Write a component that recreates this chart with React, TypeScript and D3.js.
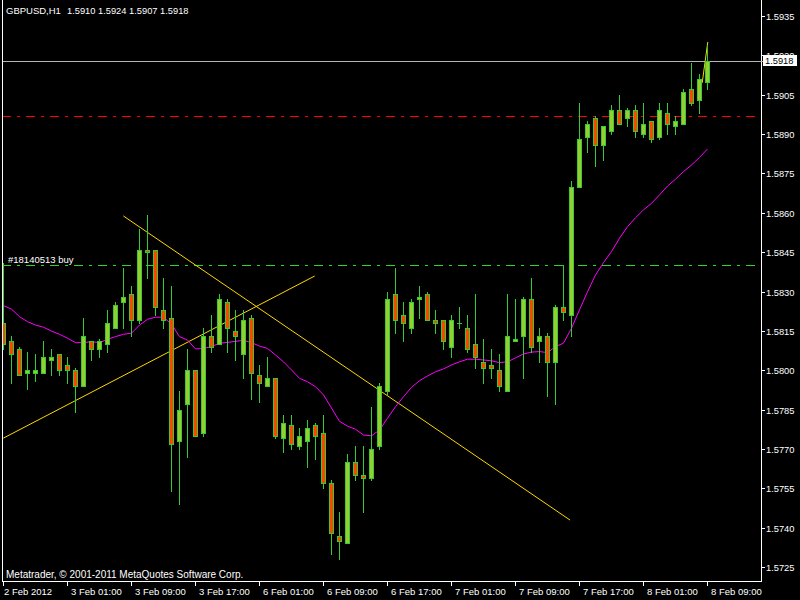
import React, { useEffect, useRef } from 'react';
import * as d3 from 'd3';

// GBPUSD H1, 2 Feb 2012 12:00 .. 8 Feb 2012 09:00 (89 bars)
const opens = [
  1.5818, 1.5811, 1.5808, 1.5799, 1.5799, 1.5799, 1.5804, 1.5806, 1.5802, 1.5800,
  1.5794, 1.5811, 1.5808, 1.5810, 1.5816, 1.5826, 1.5829, 1.5819, 1.5846, 1.5846,
  1.5823, 1.5820, 1.5773, 1.5787, 1.5800, 1.5776, 1.5813, 1.5810, 1.5826, 1.5815,
  1.5806, 1.5820, 1.5798, 1.5794, 1.5797, 1.5774, 1.5779, 1.5771, 1.5773, 1.5779,
  1.5776, 1.5757, 1.5737, 1.5734, 1.5765, 1.5760, 1.5759, 1.5771, 1.5792, 1.5829,
  1.5821, 1.5816, 1.5827, 1.5829, 1.5819, 1.5819, 1.5809, 1.5818, 1.5816, 1.5810,
  1.5803, 1.5802, 1.5800, 1.5792, 1.5811, 1.5813, 1.5827, 1.5811, 1.5813, 1.5803,
  1.5824, 1.5821, 1.5870, 1.5889, 1.5896, 1.5886, 1.5891, 1.5899, 1.5896, 1.5899,
  1.5890, 1.5895, 1.5889, 1.5898, 1.5893, 1.5894, 1.5907, 1.5903, 1.5910,
];
const highs = [
  1.5841, 1.5813, 1.5809, 1.5807, 1.5806, 1.5811, 1.5808, 1.5806, 1.5805, 1.5801,
  1.5820, 1.5811, 1.5812, 1.5823, 1.5826, 1.5839, 1.5832, 1.5854, 1.5859, 1.5846,
  1.5835, 1.5832, 1.5792, 1.5808, 1.5800, 1.5816, 1.5821, 1.5829, 1.5827, 1.5823,
  1.5823, 1.5821, 1.5802, 1.5805, 1.5797, 1.5783, 1.5783, 1.5778, 1.5781, 1.5780,
  1.5783, 1.5758, 1.5746, 1.5768, 1.5771, 1.5771, 1.5786, 1.5795, 1.5830, 1.5839,
  1.5826, 1.5827, 1.5832, 1.5830, 1.5823, 1.5819, 1.5821, 1.5824, 1.5821, 1.5829,
  1.5812, 1.5808, 1.5806, 1.5829, 1.5827, 1.5828, 1.5835, 1.5816, 1.5814, 1.5825,
  1.5840, 1.5872, 1.5902, 1.5895, 1.5897, 1.5893, 1.5901, 1.5905, 1.5900, 1.5901,
  1.5902, 1.5895, 1.5902, 1.5902, 1.5897, 1.5907, 1.5917, 1.5913, 1.5924,
];
const lows = [
  1.5808, 1.5795, 1.5798, 1.5793, 1.5796, 1.5799, 1.5798, 1.5798, 1.5795, 1.5784,
  1.5794, 1.5804, 1.5805, 1.5807, 1.5816, 1.5816, 1.5813, 1.5818, 1.5835, 1.5821,
  1.5816, 1.5754, 1.5749, 1.5767, 1.5775, 1.5775, 1.5807, 1.5810, 1.5807, 1.5804,
  1.5797, 1.5789, 1.5788, 1.5794, 1.5774, 1.5769, 1.5770, 1.5770, 1.5763, 1.5766,
  1.5755, 1.5730, 1.5728, 1.5734, 1.5758, 1.5746, 1.5758, 1.5770, 1.5791, 1.5814,
  1.5811, 1.5814, 1.5820, 1.5819, 1.5814, 1.5808, 1.5805, 1.5816, 1.5807, 1.5801,
  1.5795, 1.5797, 1.5792, 1.5792, 1.5811, 1.5797, 1.5807, 1.5803, 1.5790, 1.5787,
  1.5819, 1.5813, 1.5870, 1.5883, 1.5878, 1.5880, 1.5890, 1.5894, 1.5893, 1.5889,
  1.5889, 1.5887, 1.5888, 1.5890, 1.5890, 1.5894, 1.5901, 1.5898, 1.5907,
];
const closes = [
  1.5810, 1.5806, 1.5798, 1.5800, 1.5800, 1.5805, 1.5805, 1.5800, 1.5800, 1.5794,
  1.5813, 1.5808, 1.5811, 1.5818, 1.5825, 1.5828, 1.5819, 1.5846, 1.5845, 1.5824,
  1.5819, 1.5772, 1.5785, 1.5800, 1.5775, 1.5813, 1.5809, 1.5827, 1.5816, 1.5813,
  1.5819, 1.5799, 1.5795, 1.5797, 1.5775, 1.5780, 1.5772, 1.5775, 1.5778, 1.5775,
  1.5757, 1.5738, 1.5735, 1.5765, 1.5760, 1.5759, 1.5770, 1.5794, 1.5827, 1.5819,
  1.5818, 1.5826, 1.5828, 1.5819, 1.5818, 1.5811, 1.5819, 1.5818, 1.5808, 1.5805,
  1.5801, 1.5801, 1.5794, 1.5813, 1.5812, 1.5827, 1.5809, 1.5813, 1.5803, 1.5824,
  1.5822, 1.5870, 1.5888, 1.5894, 1.5886, 1.5893, 1.5899, 1.5894, 1.5899, 1.5891,
  1.5894, 1.5888, 1.5899, 1.5894, 1.5895, 1.5906, 1.5902, 1.5911, 1.5918,
];
// moving average (magenta)
const maValues = [
  1.58246, 1.58233, 1.58204, 1.58185, 1.58172, 1.58164, 1.58149, 1.58137, 1.58122, 1.58105,
  1.58105, 1.58109, 1.58105, 1.58118, 1.58128, 1.58137, 1.58141, 1.58172, 1.58194, 1.58202,
  1.58202, 1.58176, 1.58128, 1.58115, 1.58081, 1.58083, 1.58090, 1.58103, 1.58106, 1.58110,
  1.58114, 1.58105, 1.58092, 1.58083, 1.58058, 1.58032, 1.58001, 1.57969, 1.57956, 1.57937,
  1.57906, 1.57856, 1.57805, 1.57787, 1.57775, 1.57753, 1.57750, 1.57772, 1.57817, 1.57861,
  1.57899, 1.57935, 1.57960, 1.57978, 1.57994, 1.58005, 1.58020, 1.58032, 1.58042, 1.58042,
  1.58039, 1.58036, 1.58029, 1.58032, 1.58047, 1.58062, 1.58069, 1.58071, 1.58067, 1.58090,
  1.58103, 1.58160, 1.58230, 1.58299, 1.58363, 1.58410, 1.58452, 1.58503, 1.58547, 1.58581,
  1.58611, 1.58636, 1.58668, 1.58702, 1.58728, 1.58757, 1.58782, 1.58811, 1.58843,
];

const timeLabels = [
  '2 Feb 2012', '3 Feb 01:00', '3 Feb 09:00', '3 Feb 17:00', '6 Feb 01:00', '6 Feb 09:00',
  '6 Feb 17:00', '7 Feb 01:00', '7 Feb 09:00', '7 Feb 17:00', '8 Feb 01:00', '8 Feb 09:00',
];
const timeLabelBars = [0, 8, 16, 24, 32, 40, 48, 56, 64, 72, 80, 88];
const priceTicks = [
  1.5935, 1.5920, 1.5905, 1.5890, 1.5875, 1.5860, 1.5845, 1.5830,
  1.5815, 1.5800, 1.5785, 1.5770, 1.5755, 1.5740, 1.5725,
];

// trend lines: [bar, price] endpoints
const trendStarts = [[15.04, 1.58588], [0.04, 1.57741], [87.4, 1.59095]];
const trendEnds = [[70.875, 1.57429], [38.96, 1.58359], [88.1, 1.59251]];

const symbol = 'GBPUSD,H1';
const lastBar = [1.5910, 1.5924, 1.5907, 1.5918];
const bidPrice = 1.5918;
const takeProfit = 1.5897;
const orderPrice = 1.5840;
const orderLabel = '#18140513 buy';

export default function App() {
  const svgRef = useRef<SVGSVGElement>(null);

  useEffect(() => {
    if (!svgRef.current) return;
    const svg = d3.select(svgRef.current);
    svg.selectAll('*').remove();

    const W = 800, H = 600;
    const left = 2, right = 761, bottom = 581;
    const font = "'Liberation Sans', Arial, sans-serif";
    const lime = '#32CD32';

    const x = d3.scaleLinear().domain([0, 88]).range([3, 707]);
    const y = d3.scaleLinear().domain([1.5725, 1.5935]).range([567, 16]);
    const ry = (p: number) => Math.round(y(p));

    svg.append('rect').attr('width', W).attr('height', H).attr('fill', '#000');

    svg.append('defs').append('clipPath').attr('id', 'plot')
      .append('rect').attr('x', left + 1).attr('y', 0)
      .attr('width', right - left - 1).attr('height', bottom);

    const plot = svg.append('g').attr('clip-path', 'url(#plot)');

    // horizontal levels
    const hline = (p: number, color: string, dash: string | null) => {
      const l = plot.append('line')
        .attr('x1', left).attr('x2', right)
        .attr('y1', ry(p) + 0.5).attr('y2', ry(p) + 0.5)
        .attr('stroke', color).attr('stroke-width', 1)
        .attr('shape-rendering', 'crispEdges');
      if (dash) l.attr('stroke-dasharray', dash);
    };
    hline(bidPrice, '#B4B4B4', null);
    hline(takeProfit, '#FF0000', '9,6,3,6');
    hline(orderPrice, '#22DD22', '9,6,3,6');

    plot.append('text')
      .attr('x', 8).attr('y', ry(orderPrice) - 2.5)
      .attr('fill', '#fff').attr('font-family', font).attr('font-size', 9.5)
      .text(orderLabel);

    // trend lines
    trendStarts.forEach((s, k) => {
      const e = trendEnds[k];
      plot.append('line')
        .attr('x1', x(s[0])).attr('y1', y(s[1]))
        .attr('x2', x(e[0])).attr('y2', y(e[1]))
        .attr('stroke', '#FFD700').attr('stroke-width', 1);
    });

    // moving average
    const maLine = d3.line<number>()
      .x((_, i) => x(i) + 0.5)
      .y(d => y(d));
    plot.append('path')
      .attr('d', maLine(maValues))
      .attr('fill', 'none').attr('stroke', '#FF00FF').attr('stroke-width', 1);

    // candles
    const candles = plot.append('g').attr('shape-rendering', 'crispEdges');
    opens.forEach((o, i) => {
      const c = closes[i];
      const cx = Math.round(x(i));
      candles.append('line')
        .attr('x1', cx + 0.5).attr('x2', cx + 0.5)
        .attr('y1', ry(highs[i])).attr('y2', ry(lows[i]) + 1)
        .attr('stroke', lime);
      const top = ry(Math.max(o, c));
      const bot = ry(Math.min(o, c));
      if (bot - top < 1) {
        candles.append('line')
          .attr('x1', cx - 2).attr('x2', cx + 3)
          .attr('y1', top + 0.5).attr('y2', top + 0.5)
          .attr('stroke', lime);
      } else {
        candles.append('rect')
          .attr('x', cx - 1.5).attr('y', top + 0.5)
          .attr('width', 4).attr('height', bot - top)
          .attr('fill', c >= o ? '#9ACD32' : '#FF4500')
          .attr('stroke', lime);
      }
    });

    // frame
    const frame = svg.append('g').attr('stroke', '#fff').attr('shape-rendering', 'crispEdges');
    frame.append('line').attr('x1', left + 0.5).attr('x2', left + 0.5).attr('y1', 0).attr('y2', bottom + 1);
    frame.append('line').attr('x1', right + 0.5).attr('x2', right + 0.5).attr('y1', 0).attr('y2', bottom + 1);
    frame.append('line').attr('x1', left).attr('x2', right + 1).attr('y1', bottom + 0.5).attr('y2', bottom + 0.5);

    // price axis
    priceTicks.forEach(p => {
      frame.append('line')
        .attr('x1', right).attr('x2', right + 4)
        .attr('y1', ry(p) + 0.5).attr('y2', ry(p) + 0.5);
      svg.append('text')
        .attr('x', 766).attr('y', ry(p) + 3.5)
        .attr('fill', '#fff').attr('font-family', font).attr('font-size', 9.3)
        .text(d3.format('.4f')(p));
    });

    // bid marker
    svg.append('line')
      .attr('x1', right).attr('x2', right + 3)
      .attr('y1', ry(bidPrice) + 0.5).attr('y2', ry(bidPrice) + 0.5)
      .attr('stroke', '#B4B4B4').attr('shape-rendering', 'crispEdges');
    svg.append('rect')
      .attr('x', 763).attr('y', ry(bidPrice) - 6)
      .attr('width', 34).attr('height', 11).attr('fill', '#fff');
    svg.append('text')
      .attr('x', 765).attr('y', ry(bidPrice) + 2.5)
      .attr('fill', '#000').attr('font-family', font).attr('font-size', 9.3)
      .text(d3.format('.4f')(bidPrice));

    // time axis
    timeLabelBars.forEach((b, k) => {
      const tx = Math.round(x(b));
      frame.append('line')
        .attr('x1', tx + 0.5).attr('x2', tx + 0.5)
        .attr('y1', bottom).attr('y2', bottom + 5);
      svg.append('text')
        .attr('x', k === 0 ? 4 : tx + 4).attr('y', 595)
        .attr('fill', '#fff').attr('font-family', font).attr('font-size', 9.5)
        .text(timeLabels[k]);
    });

    // header and footer
    svg.append('text')
      .attr('x', 6).attr('y', 14)
      .attr('fill', '#fff').attr('font-family', font).attr('font-size', 9.5)
      .text(symbol);
    svg.append('text')
      .attr('x', 67).attr('y', 14)
      .attr('fill', '#fff').attr('font-family', font).attr('font-size', 9.3)
      .text(lastBar.map(d => d3.format('.4f')(d)).join(' '));
    svg.append('text')
      .attr('x', 6).attr('y', 577.5)
      .attr('fill', '#fff').attr('font-family', font).attr('font-size', 10)
      .text('Metatrader, © 2001-2011 MetaQuotes Software Corp.');
  }, []);

  return (
    <div style={{ position: 'absolute', left: 0, top: 0 }}>
      <svg ref={svgRef} width={800} height={600} style={{ display: 'block' }} />
    </div>
  );
}
